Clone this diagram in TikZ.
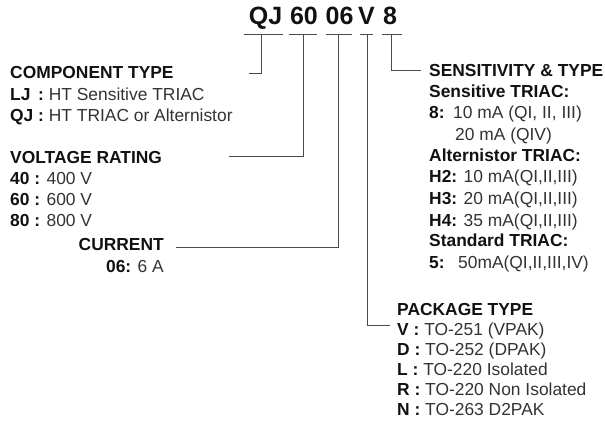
\documentclass[tikz,border=0pt]{standalone}
\usepackage{fontspec}
\setmainfont{Liberation Sans}
\definecolor{txt}{HTML}{111111}
\definecolor{reg}{HTML}{333333}
\definecolor{ln}{HTML}{4A4A4A}
\begin{document}
\begin{tikzpicture}[x=1pt,y=-1pt,
  lbl/.style={anchor=base west,inner sep=0pt,font=\fontsize{17.4}{20}\selectfont,text=reg},
  lble/.style={lbl,anchor=base east},
  ttl/.style={anchor=base,inner sep=0pt,font=\fontsize{25}{28}\selectfont\bfseries,text=txt},
  wire/.style={draw=ln,line width=0.8pt}]
\newcommand{\bb}[1]{\textcolor{txt}{\bfseries #1}}
\useasboundingbox (0,0) rectangle (605,422);
% title
\node[ttl] (t1) at (265.5,25) {QJ};
\node[ttl] (t2) at (304,25) {60};
\node[ttl] (t3) at (339.5,25) {06};
\node[ttl] (t4) at (366.5,25) {V};
\node[ttl] (t5) at (390,25) {8};
% underlines
\draw[wire] (244,34) -- (283,34);
\draw[wire] (289,34) -- (317,34);
\draw[wire] (326,34) -- (352,34);
\draw[wire] (360,34) -- (373,34);
\draw[wire] (382,34) -- (402,34);
\coordinate (u1) at (261,34);
\coordinate (u2) at (303,34);
\coordinate (u3) at (338,34);
\coordinate (u4) at (367,34);
\coordinate (u5) at (391,34);
\coordinate (h1) at (249,73);
\coordinate (h2) at (229,156);
\coordinate (h3) at (176,247);
\coordinate (h4) at (390,325);
\coordinate (h5) at (421,70);
\draw[wire] (u1) |- (h1);
\draw[wire] (u2) |- (h2);
\draw[wire] (u3) |- (h3);
\draw[wire] (u4) |- (h4);
\draw[wire] (u5) |- (h5);
% left column
\node[lbl] (comp) at (10,79) {\bb{COMPONENT TYPE}};
\node[lbl] (lj) at (10,101) {\bb{LJ\hspace{2.9pt} :} HT Sensitive TRIAC};
\node[lbl] (qj) at (10,122) {\bb{QJ :} HT TRIAC or Alternistor};
\node[lbl] (volt) at (10,164) {\bb{VOLTAGE RATING}};
\node[lbl] (v40) at (10,185) {\bb{40 :} 400 V};
\node[lbl] (v60) at (10,206) {\bb{60 :} 600 V};
\node[lbl] (v80) at (10,227) {\bb{80 :} 800 V};
\node[lble] (cur) at (164,251) {\bb{CURRENT}};
\node[lble] (cur6) at (164,272) {\bb{06:} 6 A};
% right column
\node[lbl] (sens) at (429,77) {\bb{SENSITIVITY \& TYPE}};
\node[lbl] (sst) at (429,98) {\bb{Sensitive TRIAC:}};
\node[lbl] (s8) at (429,119) {\makebox[24pt][l]{\bb{8:}}10 mA (QI, II, III)};
\node[lbl] (s8b) at (455,141) {20 mA (QIV)};
\node[lbl] (alt) at (429,162) {\bb{Alternistor TRIAC:}};
\node[lbl] (h2) at (429,183) {\bb{H2:} 10 mA(QI,II,III)};
\node[lbl] (h3) at (429,205) {\bb{H3:} 20 mA(QI,II,III)};
\node[lbl] (h4) at (429,226) {\bb{H4:} 35 mA(QI,II,III)};
\node[lbl] (std) at (429,247) {\bb{Standard TRIAC:}};
\node[lbl] (s5) at (429,268) {\makebox[29pt][l]{\bb{5:}}50mA(QI,II,III,IV)};
% package
\node[lbl] (pkg) at (397,315) {\bb{PACKAGE TYPE}};
\node[lbl] (pv) at (397,335) {\bb{V :} TO-251 (VPAK)};
\node[lbl] (pd) at (397,355) {\bb{D :} TO-252 (DPAK)};
\node[lbl] (pl) at (397,375) {\bb{L :} TO-220 Isolated};
\node[lbl] (pr) at (397,395) {\bb{R :} TO-220 Non Isolated};
\node[lbl] (pn) at (397,415) {\bb{N :} TO-263 D2PAK};
\end{tikzpicture}
\end{document}
